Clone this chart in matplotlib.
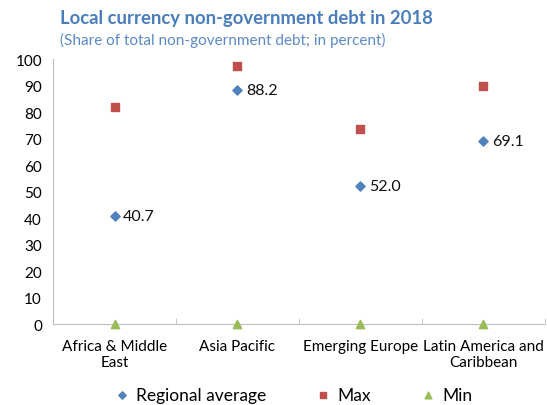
import numpy as np
import matplotlib.pyplot as plt

plt.rcParams['font.family'] = ['Lato', 'DejaVu Sans']

categories = ['Africa & Middle\nEast', 'Asia Pacific', 'Emerging Europe', 'Latin America and\nCaribbean']
regional_avg = [40.7, 88.2, 52.0, 69.1]
max_vals = [82.0, 97.4, 73.6, 89.8]
min_vals = [0.0, 0.0, 0.0, 0.0]

fig = plt.figure(figsize=(5.47, 4.06), dpi=100)
ax = fig.add_axes([0.097, 0.1995, 0.899, 0.6525])

x = np.arange(len(categories))
ax.scatter(x, regional_avg, marker='D', s=22, color='#4f81bd', label='Regional average', zorder=3)
ax.scatter(x, max_vals, marker='s', s=36, color='#c0504d', label='Max', zorder=3)
ax.scatter(x, min_vals, marker='^', s=36, color='#9bbb59', label='Min', zorder=3, clip_on=False)

for xi, v in zip(x, regional_avg):
    ax.annotate(f'{v:.1f}', (xi, v), xytext=(6, 0), textcoords='offset points',
                va='center', ha='left', fontsize=11.5, color='#111111')

ax.set_xlim(-0.5, len(categories) - 0.5)
ax.set_ylim(0, 100)
ax.set_yticks(range(0, 101, 10))
ax.tick_params(axis='y', length=0, labelsize=11, pad=8)
ax.set_xticks(x)
ax.set_xticklabels(categories, fontsize=11)
ax.tick_params(axis='x', length=0, pad=11)
ax.set_xticks(np.arange(-0.5, len(categories), 1), minor=True)
ax.tick_params(axis='x', which='minor', length=4, color='#bfbfbf', direction='in')
for s in ['top', 'right']:
    ax.spines[s].set_visible(False)
for s in ['left', 'bottom']:
    ax.spines[s].set_color('#bfbfbf')

fig.text(0.11, 0.955, 'Local currency non-government debt in 2018', fontsize=13.3,
         fontweight='bold', color='#4a7ebb', ha='left', va='center')
fig.text(0.11, 0.9, '(Share of total non-government debt; in percent)', fontsize=11,
         color='#5b8ac6', ha='left', va='center')

fig.legend(loc='center', bbox_to_anchor=(0.535, 0.025), ncol=3, frameon=False,
           fontsize=12.5, handlelength=1, handletextpad=0.3, columnspacing=2.8,
           markerscale=0.8)

fig.savefig('out.png', dpi=100)
